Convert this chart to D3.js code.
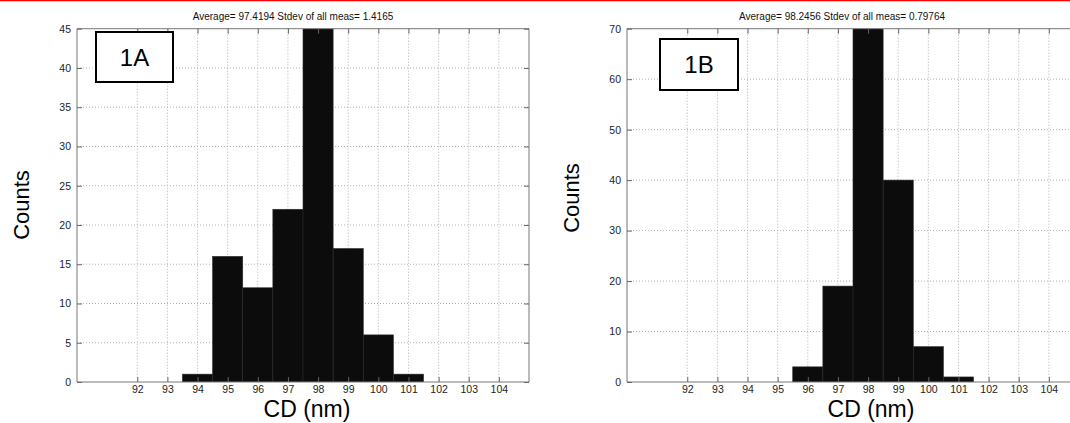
<!DOCTYPE html>
<html>
<head>
<meta charset="utf-8">
<script src="https://cdn.jsdelivr.net/npm/d3@7"></script>
<style>
  body { margin: 0; background: #fff; }
  svg { display: block; font-family: "Liberation Sans", Arial, sans-serif; }
</style>
</head>
<body>
<div id="chart-container"></div>
<script>
// Histogram data
const binsA = [94, 95, 96, 97, 98, 99, 100, 101];
const countsA = [1, 16, 12, 22, 45, 17, 6, 1];
const binsB = [96, 97, 98, 99, 100, 101];
const countsB = [3, 19, 70, 40, 7, 1];

const xTicks = [92, 93, 94, 95, 96, 97, 98, 99, 100, 101, 102, 103, 104];
const yTicksA = [0, 5, 10, 15, 20, 25, 30, 35, 40, 45];
const yTicksB = [0, 10, 20, 30, 40, 50, 60, 70];

const titleA = "Average= 97.4194 Stdev of all meas= 1.4165";
const titleB = "Average= 98.2456 Stdev of all meas= 0.79764";

const width = 1070;
const height = 423;

const svg = d3.create("svg")
  .attr("width", width)
  .attr("height", height)
  .attr("viewBox", [0, 0, width, height]);

// thin red line along the top edge
svg.append("line")
  .attr("x1", 0).attr("x2", width)
  .attr("y1", 0.5).attr("y2", 0.5)
  .attr("stroke", "#ff0000")
  .attr("stroke-width", 1.5);

function drawPanel(opts) {
  const { left, bins, counts, yMax, yTicks, title, titleX, label, box, countsY, xLabelX, clipId } = opts;
  const top = 28.7, bottom = 382, plotW = 452;

  const x = d3.scaleLinear().domain([90, 105]).range([left, left + plotW]);
  const y = d3.scaleLinear().domain([0, yMax]).range([bottom, top]);

  const g = svg.append("g");

  g.append("clipPath").attr("id", clipId)
    .append("rect")
    .attr("x", left).attr("y", top)
    .attr("width", plotW).attr("height", bottom - top);

  // dotted grid
  g.append("g")
    .selectAll("line")
    .data(xTicks)
    .join("line")
    .attr("x1", d => x(d)).attr("x2", d => x(d))
    .attr("y1", top).attr("y2", bottom)
    .attr("stroke", "#b0b0b0")
    .attr("stroke-dasharray", "1,2");

  g.append("g")
    .selectAll("line")
    .data(yTicks.slice(1, -1))
    .join("line")
    .attr("x1", left).attr("x2", left + plotW)
    .attr("y1", d => y(d)).attr("y2", d => y(d))
    .attr("stroke", "#b0b0b0")
    .attr("stroke-dasharray", "1,2");

  // bars
  g.append("g")
    .attr("clip-path", `url(#${clipId})`)
    .selectAll("rect")
    .data(bins.map((b, i) => ({ b, c: counts[i] })))
    .join("rect")
    .attr("x", d => x(d.b - 0.5))
    .attr("width", d => x(d.b + 0.5) - x(d.b - 0.5))
    .attr("y", d => y(d.c))
    .attr("height", d => y(0) - y(d.c))
    .attr("fill", "#0c0c0c")
    .attr("stroke", "#2a2a2a")
    .attr("stroke-width", 0.6);

  // axes (ticks inward like MATLAB)
  g.append("g")
    .attr("transform", `translate(0,${bottom})`)
    .call(d3.axisBottom(x).tickValues(xTicks).tickSize(-5).tickPadding(4).tickFormat(d3.format("d")))
    .call(a => a.select(".domain").attr("stroke", "#777").attr("d", `M${left},0H${left + plotW}`));

  g.append("g")
    .attr("transform", `translate(0,${top})`)
    .call(d3.axisTop(x).tickValues(xTicks).tickSize(-5).tickFormat(""))
    .call(a => a.select(".domain").attr("stroke", "#777").attr("d", `M${left},0H${left + plotW}`));

  g.append("g")
    .attr("transform", `translate(${left},0)`)
    .call(d3.axisLeft(y).tickValues(yTicks).tickSize(-5).tickPadding(6))
    .call(a => a.select(".domain").attr("stroke", "#777").attr("d", `M0,${top}V${bottom}`));

  g.append("g")
    .attr("transform", `translate(${left + plotW},0)`)
    .call(d3.axisRight(y).tickValues(yTicks).tickSize(-5).tickFormat(""))
    .call(a => a.select(".domain").attr("stroke", "#777").attr("d", `M0,${top}V${bottom}`));

  g.selectAll(".tick line").attr("stroke", "#666");
  g.selectAll(".tick text")
    .attr("font-family", "Liberation Sans, Arial, sans-serif")
    .attr("font-size", 10.5)
    .attr("fill", "#222");

  // title
  g.append("text")
    .attr("x", titleX).attr("y", 20)
    .attr("text-anchor", "middle")
    .attr("font-size", 10)
    .attr("fill", "#111")
    .text(title);

  // axis labels
  g.append("text")
    .attr("transform", `translate(${left - 48},${countsY}) rotate(-90)`)
    .attr("text-anchor", "middle")
    .attr("font-size", 22)
    .attr("fill", "#000")
    .text("Counts");

  g.append("text")
    .attr("x", xLabelX).attr("y", 417)
    .attr("text-anchor", "middle")
    .attr("font-size", 23)
    .attr("fill", "#000")
    .text("CD (nm)");

  // panel label box
  g.append("rect")
    .attr("x", box[0]).attr("y", box[1])
    .attr("width", box[2]).attr("height", box[3])
    .attr("fill", "#fff")
    .attr("stroke", "#000")
    .attr("stroke-width", 2);

  g.append("text")
    .attr("x", box[0] + box[2] / 2)
    .attr("y", box[1] + box[3] / 2 + 8.5)
    .attr("text-anchor", "middle")
    .attr("font-size", 24)
    .attr("fill", "#000")
    .text(label);
}

drawPanel({
  left: 77, bins: binsA, counts: countsA, yMax: 45, yTicks: yTicksA,
  title: titleA, titleX: 293, label: "1A", box: [96, 32, 77, 50],
  countsY: 205, xLabelX: 307, clipId: "clipA"
});

drawPanel({
  left: 627, bins: binsB, counts: countsB, yMax: 70, yTicks: yTicksB,
  title: titleB, titleX: 842, label: "1B", box: [660, 39, 78, 51],
  countsY: 198, xLabelX: 871, clipId: "clipB"
});

document.getElementById("chart-container").appendChild(svg.node());
</script>
</body>
</html>
